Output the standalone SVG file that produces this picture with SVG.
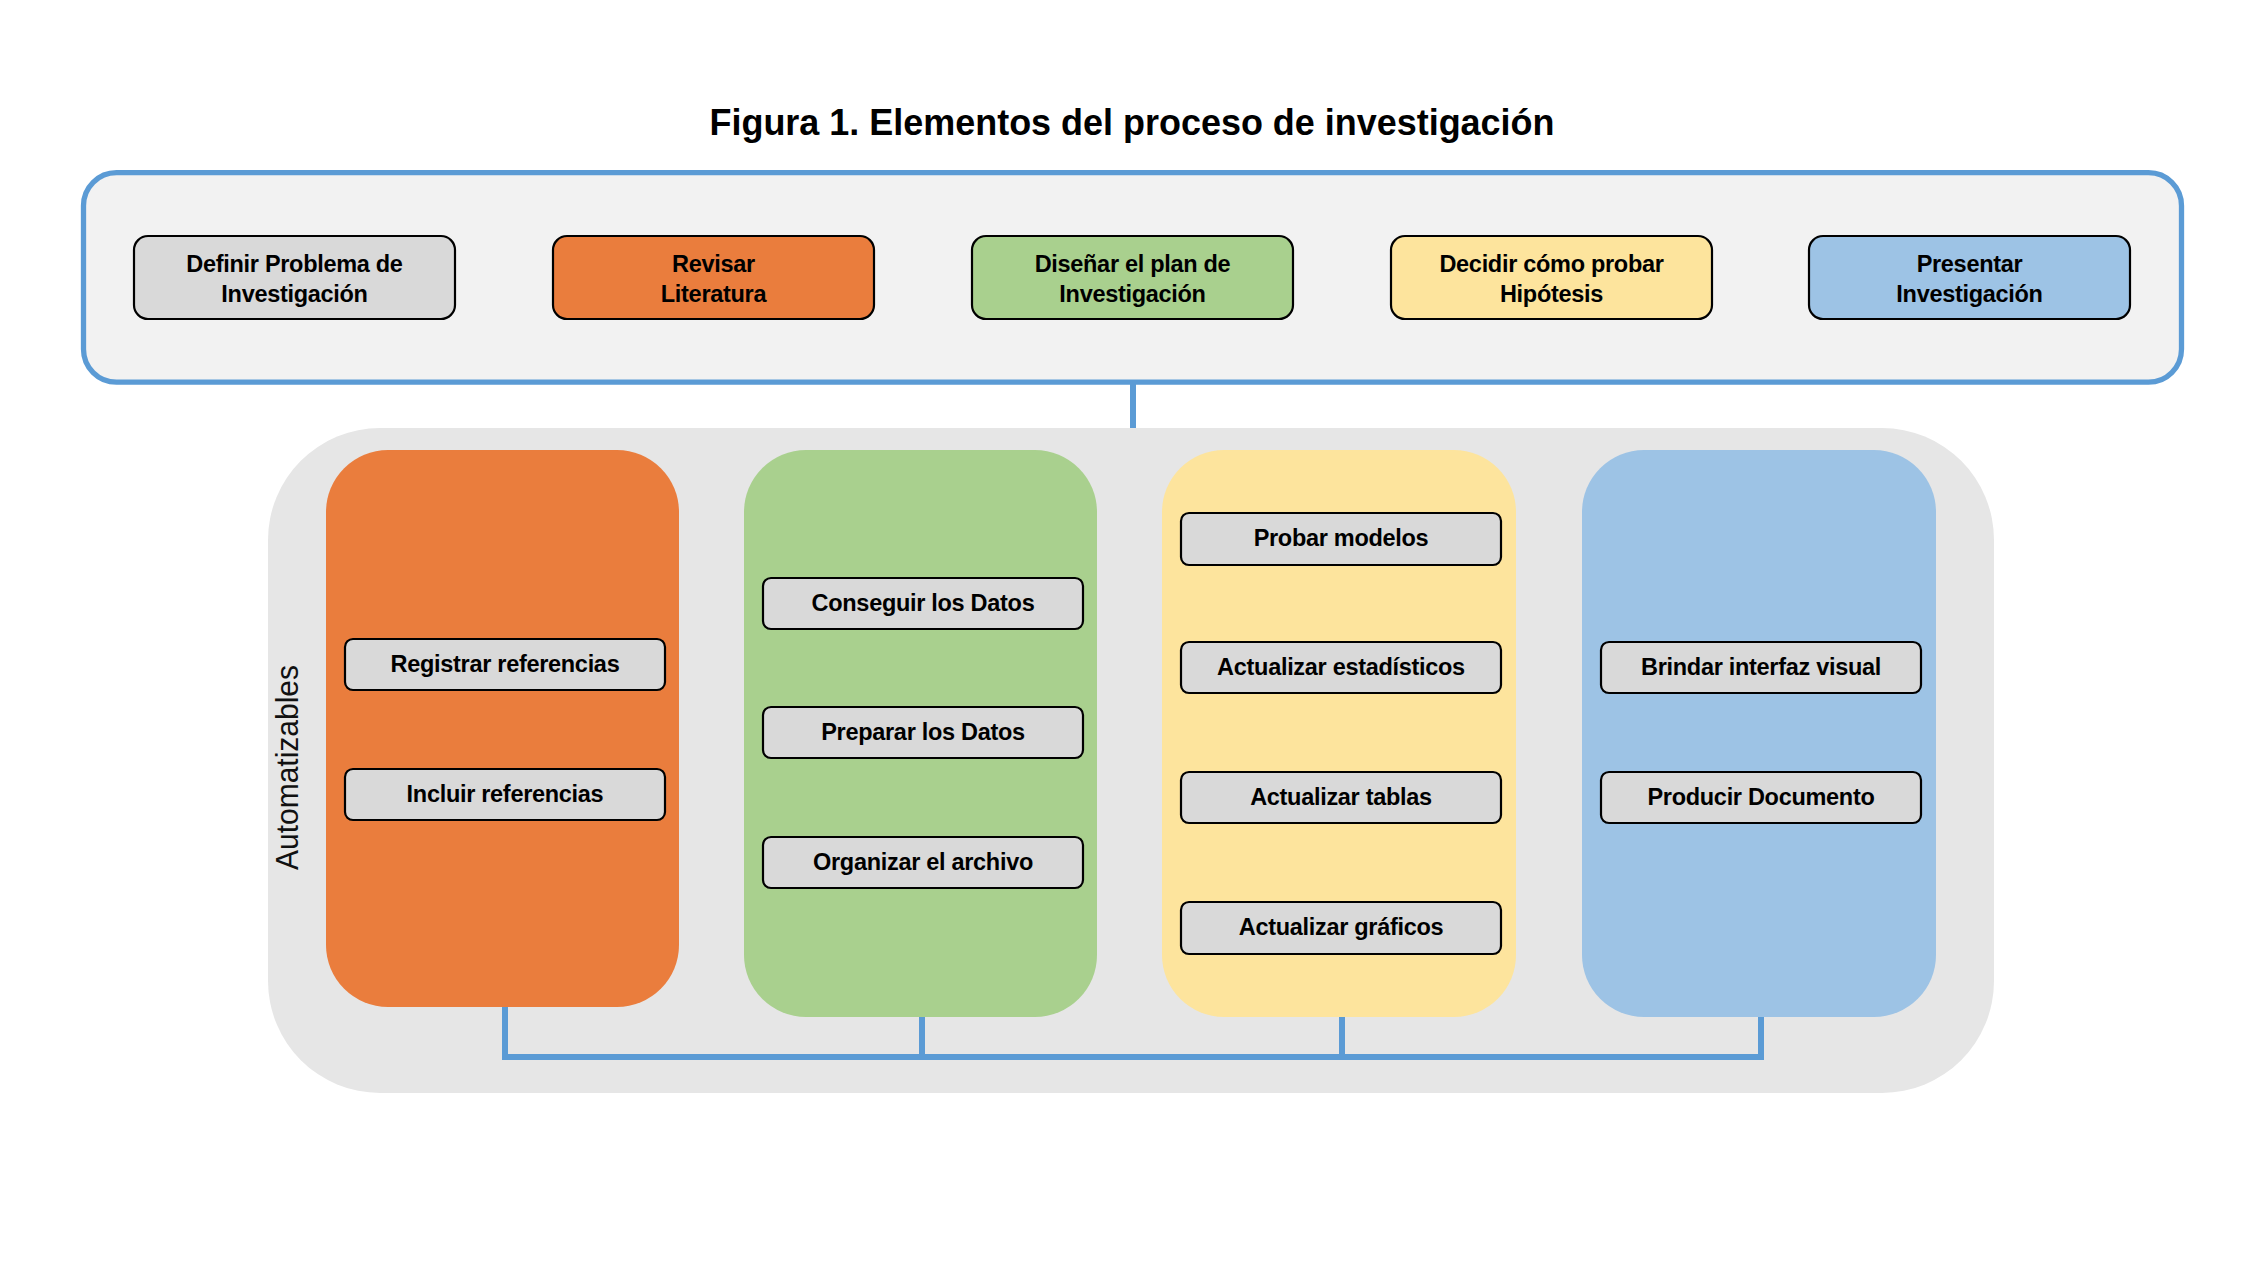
<svg xmlns="http://www.w3.org/2000/svg" width="2260" height="1266" viewBox="0 0 2260 1266">
<style>
.t{font-family:"Liberation Sans",Arial,sans-serif;font-weight:bold;font-size:23.5px;fill:#000;text-anchor:middle;letter-spacing:-0.3px}
.top{stroke:#000;stroke-width:2.2}
.item{fill:#d9d9d9;stroke:#000;stroke-width:2.2}
.col{stroke:none}
.conn{fill:none;stroke:#5b9bd5;stroke-width:6}
</style>
<rect width="2260" height="1266" fill="#ffffff"/>
<text x="1132" y="135" font-family="Liberation Sans, Arial, sans-serif" font-weight="bold" font-size="37" text-anchor="middle" textLength="845" lengthAdjust="spacingAndGlyphs" fill="#000">Figura 1. Elementos del proceso de investigación</text>

<g id="etapas">
<rect x="83.5" y="172.7" width="2098" height="209.5" rx="33" ry="33" fill="#f2f2f2" stroke="#5b9bd5" stroke-width="5.3"/>
</g>
<g id="n-definir"><rect class="top" x="134" y="236" width="321" height="83" rx="14" fill="#d9d9d9"/><text class="t" x="294.5" y="271.5">Definir Problema de</text><text class="t" x="294.5" y="301.5">Investigación</text></g>
<g id="n-revisar"><rect class="top" x="553" y="236" width="321" height="83" rx="14" fill="#ea7d3d"/><text class="t" x="713.5" y="271.5">Revisar</text><text class="t" x="713.5" y="301.5">Literatura</text></g>
<g id="n-disenar"><rect class="top" x="972" y="236" width="321" height="83" rx="14" fill="#a9d08e"/><text class="t" x="1132.5" y="271.5">Diseñar el plan de</text><text class="t" x="1132.5" y="301.5">Investigación</text></g>
<g id="n-decidir"><rect class="top" x="1391" y="236" width="321" height="83" rx="14" fill="#fde49d"/><text class="t" x="1551.5" y="271.5">Decidir cómo probar</text><text class="t" x="1551.5" y="301.5">Hipótesis</text></g>
<g id="n-presentar"><rect class="top" x="1809" y="236" width="321" height="83" rx="14" fill="#9dc3e5"/><text class="t" x="1969.5" y="271.5">Presentar</text><text class="t" x="1969.5" y="301.5">Investigación</text></g>

<g id="automatizables">
<rect x="268" y="428" width="1726" height="665" rx="112" ry="112" fill="#e6e6e6"/>
<text transform="translate(298,767.5) rotate(-90)" x="0" y="0" font-family="Liberation Sans, Arial, sans-serif" font-size="31" text-anchor="middle" textLength="205" lengthAdjust="spacingAndGlyphs" fill="#111">Automatizables</text>
</g>

<g id="col-orange"><rect class="col" x="326" y="450" width="353" height="557" rx="62" ry="62" fill="#ea7d3d"/></g>
<g id="col-green"><rect class="col" x="744" y="450" width="353" height="567" rx="62" ry="62" fill="#a9d08e"/></g>
<g id="col-yellow"><rect class="col" x="1162" y="450" width="354" height="567" rx="62" ry="62" fill="#fde49d"/></g>
<g id="col-blue"><rect class="col" x="1582" y="450" width="354" height="567" rx="62" ry="62" fill="#9dc3e5"/></g>

<g id="n-registrar"><rect class="item" x="345" y="639" width="320" height="51" rx="8"/><text class="t" x="505" y="672">Registrar referencias</text></g>
<g id="n-incluir"><rect class="item" x="345" y="769" width="320" height="51" rx="8"/><text class="t" x="505" y="802">Incluir referencias</text></g>

<g id="n-conseguir"><rect class="item" x="763" y="578" width="320" height="51" rx="8"/><text class="t" x="923" y="611">Conseguir los Datos</text></g>
<g id="n-preparar"><rect class="item" x="763" y="707" width="320" height="51" rx="8"/><text class="t" x="923" y="740">Preparar los Datos</text></g>
<g id="n-organizar"><rect class="item" x="763" y="837" width="320" height="51" rx="8"/><text class="t" x="923" y="870">Organizar el archivo</text></g>

<g id="n-probar"><rect class="item" x="1181" y="513" width="320" height="52" rx="8"/><text class="t" x="1341" y="546">Probar modelos</text></g>
<g id="n-estadisticos"><rect class="item" x="1181" y="642" width="320" height="51" rx="8"/><text class="t" x="1341" y="675">Actualizar estadísticos</text></g>
<g id="n-tablas"><rect class="item" x="1181" y="772" width="320" height="51" rx="8"/><text class="t" x="1341" y="805">Actualizar tablas</text></g>
<g id="n-graficos"><rect class="item" x="1181" y="902" width="320" height="52" rx="8"/><text class="t" x="1341" y="935">Actualizar gráficos</text></g>

<g id="n-brindar"><rect class="item" x="1601" y="642" width="320" height="51" rx="8"/><text class="t" x="1761" y="675">Brindar interfaz visual</text></g>
<g id="n-producir"><rect class="item" x="1601" y="772" width="320" height="51" rx="8"/><text class="t" x="1761" y="805">Producir Documento</text></g>

<g id="connectors">
<line class="conn" x1="1133" y1="384" x2="1133" y2="428"/>
<path class="conn" d="M505 1007 V1057 H1761 V1017 M922 1017 V1057 M1342 1017 V1057"/>
</g>
</svg>
